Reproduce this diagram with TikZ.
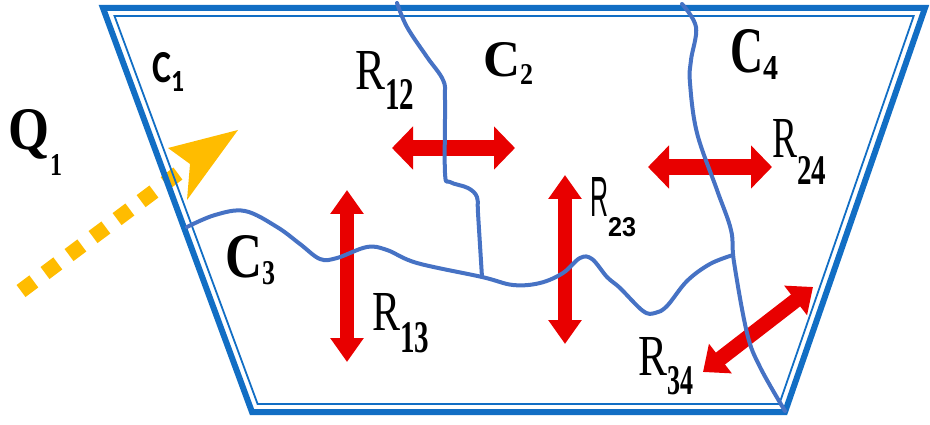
\documentclass[tikz,border=0pt]{standalone}
\usepackage{fontspec}
\usepackage{graphicx}
\setmainfont{Liberation Serif}
\newfontfamily\tb{Liberation Serif Bold}
\newfontfamily\calibf{Carlito Bold}
\newfontfamily\sansf{Liberation Sans}
\newfontfamily\sansb{Liberation Sans Bold}
\usetikzlibrary{arrows.meta}
\definecolor{bordblue}{RGB}{18,110,196}
\definecolor{curveblue}{RGB}{70,114,196}
\definecolor{redc}{RGB}{232,0,0}
\definecolor{yelc}{RGB}{255,188,0}
% #1 main text, #2 width, #3 height, #4 sub text, #5 width, #6 height, #7 drop
\newcommand\mylbl[7]{\resizebox{#2pt}{#3pt}{#1}\raisebox{-#7pt}{\resizebox{#5pt}{#6pt}{#4}}}
\tikzset{
  outerb/.style={draw=bordblue, line width=6pt, line join=miter},
  innerb/.style={draw=bordblue, line width=1.8pt, line join=miter},
  curve/.style={draw=curveblue, line width=4pt, line cap=round, line join=round},
  redarr/.style n args={3}{draw=redc, line width=#1pt, >={Triangle[width=#2pt,length=#3pt]}, <->},
  lab/.style={inner sep=0pt, outer sep=0pt, anchor=base west},
  yeldash/.style={draw=yelc, line width=15pt, dash pattern=on 16pt off 14pt},
}
\begin{document}
\begin{tikzpicture}[x=1pt,y=-1pt]
\useasboundingbox (0,0) rectangle (930,425);
% yellow heat flow dashes
\coordinate (qs) at (21,291);
\coordinate (qe) at (180,172);
\draw[yeldash] (qs) -- (qe);
% trapezoid
\draw[outerb] (103,8) -- (925,8) -- (785,412) -- (252,412) -- cycle;
\draw[innerb] (114.5,16) -- (913.7,16) -- (779.3,404) -- (257.6,404) -- cycle;
% red arrows
\coordinate (a12l) at (392,148); \coordinate (a12r) at (515,148);
\coordinate (a13t) at (347,190); \coordinate (a13b) at (347,362);
\coordinate (a23t) at (565,175); \coordinate (a23b) at (565,344);
\coordinate (a24l) at (648,167); \coordinate (a24r) at (772,167);
\coordinate (a34l) at (703,372); \coordinate (a34r) at (813,287);
\draw[redarr={16}{42}{21}] (a12l) -- (a12r);
\draw[redarr={14}{32}{24}] (a13t) -- (a13b);
\draw[redarr={14}{32}{24}] (a23t) -- (a23b);
\draw[redarr={16}{42}{21}] (a24l) -- (a24r);
\draw[redarr={15}{36}{22}] (a34l) -- (a34r);
% blue boundaries
\draw[curve] plot[smooth, tension=0.6] coordinates {(397,3) (407,27) (427,57) (443,80) (445,100) (445,173) (450,182) (468,188) (477,197) (478,213) (482,277)};
\draw[curve] plot[smooth, tension=0.6] coordinates {(187,227) (215,215) (245,211) (277,227) (300,244) (320,259) (337,258) (367,247) (387,250) (417,263) (482,277) (513,285) (540,283) (563,273) (580,258) (592,259) (607,277) (620,288) (643,311) (655,313) (667,306) (687,281) (710,264) (733,255)};
\draw[curve] plot[smooth, tension=0.6] coordinates {(682,4) (696,27) (691,60) (690,83) (697,133) (717,190) (731,230) (734,262) (747,333) (760,367) (785,411)};
% yellow arrowhead
\fill[yelc] (238,130) -- (168,148) -- (190,164) -- (187,200) -- cycle;
% labels
\node[lab] (q1) at (9,150) {\mylbl{\tb Q}{41}{40}{\tb 1}{12}{21}{25}};
\node[lab] (c1) at (152,83) {\mylbl{\calibf C}{19}{30}{\calibf 1}{13}{20}{9}};
\node[lab] (c2) at (483,77) {\mylbl{\tb C}{37}{34}{\tb 2}{13}{20}{8}};
\node[lab] (c3) at (225,277) {\mylbl{\tb C}{37}{42}{\tb 3}{13}{23}{8}};
\node[lab] (c4) at (730,73) {\mylbl{\tb C}{33}{43}{\tb 4}{15}{23}{7}};
\node[lab] (r12) at (355,90) {\mylbl{R}{30}{38}{\tb 12}{29}{30}{20}};
\node[lab] (r13) at (372,330) {\mylbl{R}{28}{37}{\tb 13}{29}{30}{22}};
\node[lab] (r23) at (590,217) {\mylbl{\sansf R}{18}{39}{\sansb 23}{28}{19}{20}};
\node[lab] (r24) at (772,158) {\mylbl{R}{25}{38}{\tb 24}{29}{28}{27}};
\node[lab] (r34) at (638,375) {\mylbl{R}{29}{38}{\tb 34}{26}{28}{20}};
\end{tikzpicture}
\end{document}
